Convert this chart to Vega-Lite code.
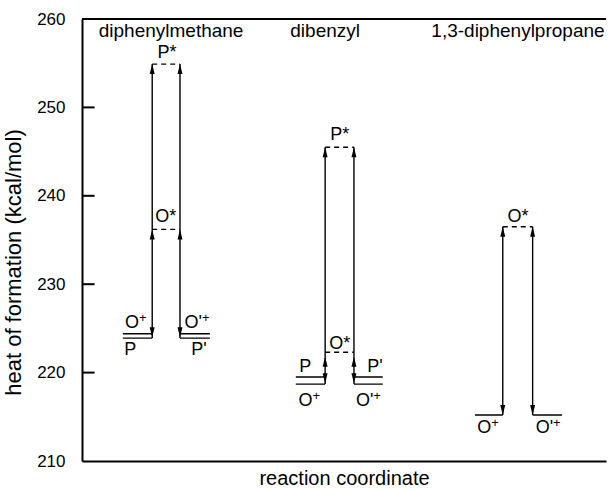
{
  "$schema": "https://vega.github.io/schema/vega-lite/v6.json",
  "width": 524,
  "height": 442,
  "autosize": {"type": "none"},
  "padding": {"left": 82, "top": 19, "right": 4, "bottom": 29},
  "background": "white",
  "config": {
    "view": {"stroke": null},
    "font": "Liberation Sans",
    "axis": {"domainColor": "black", "domainWidth": 2, "tickColor": "black", "labelColor": "black", "titleColor": "black", "grid": false, "titleFontWeight": "normal"}
  },
  "datasets": {
    "segments": [
      {"compound": "diphenylmethane", "state": "ground", "x": 7.8, "x2": 13.4, "y": 224.4, "y2": 224.4},
      {"compound": "diphenylmethane", "state": "ground", "x": 7.8, "x2": 13.4, "y": 223.9, "y2": 223.9},
      {"compound": "diphenylmethane", "state": "ground", "x": 18.7, "x2": 24.4, "y": 224.4, "y2": 224.4},
      {"compound": "diphenylmethane", "state": "ground", "x": 18.7, "x2": 24.4, "y": 223.9, "y2": 223.9},
      {"compound": "diphenylmethane", "state": "excited", "x": 13.4, "x2": 18.7, "y": 254.9, "y2": 254.9},
      {"compound": "diphenylmethane", "state": "excited", "x": 13.4, "x2": 18.7, "y": 236.2, "y2": 236.2},
      {"compound": "diphenylmethane", "state": "transition", "x": 13.4, "x2": 13.4, "y": 223.9, "y2": 254.9},
      {"compound": "diphenylmethane", "state": "transition", "x": 18.7, "x2": 18.7, "y": 223.9, "y2": 254.9},
      {"compound": "dibenzyl", "state": "ground", "x": 40.8, "x2": 46.4, "y": 219.5, "y2": 219.5},
      {"compound": "dibenzyl", "state": "ground", "x": 40.8, "x2": 46.4, "y": 218.7, "y2": 218.7},
      {"compound": "dibenzyl", "state": "ground", "x": 51.9, "x2": 57.4, "y": 219.5, "y2": 219.5},
      {"compound": "dibenzyl", "state": "ground", "x": 51.9, "x2": 57.4, "y": 218.7, "y2": 218.7},
      {"compound": "dibenzyl", "state": "excited", "x": 46.4, "x2": 51.9, "y": 245.5, "y2": 245.5},
      {"compound": "dibenzyl", "state": "excited", "x": 46.4, "x2": 51.9, "y": 222.3, "y2": 222.3},
      {"compound": "dibenzyl", "state": "transition", "x": 46.4, "x2": 46.4, "y": 218.7, "y2": 245.5},
      {"compound": "dibenzyl", "state": "transition", "x": 51.9, "x2": 51.9, "y": 218.7, "y2": 245.5},
      {"compound": "1,3-diphenylpropane", "state": "ground", "x": 75.0, "x2": 80.3, "y": 215.2, "y2": 215.2},
      {"compound": "1,3-diphenylpropane", "state": "ground", "x": 86.0, "x2": 91.6, "y": 215.2, "y2": 215.2},
      {"compound": "1,3-diphenylpropane", "state": "excited", "x": 80.3, "x2": 86.0, "y": 236.5, "y2": 236.5},
      {"compound": "1,3-diphenylpropane", "state": "transition", "x": 80.3, "x2": 80.3, "y": 215.2, "y2": 236.5},
      {"compound": "1,3-diphenylpropane", "state": "transition", "x": 86.0, "x2": 86.0, "y": 215.2, "y2": 236.5}
    ],
    "arrows": [
      {"dir": "up", "x": 13.4, "y": 254.9},
      {"dir": "up", "x": 18.7, "y": 254.9},
      {"dir": "up", "x": 13.4, "y": 236.2},
      {"dir": "up", "x": 18.7, "y": 236.2},
      {"dir": "down", "x": 13.4, "y": 224.0},
      {"dir": "down", "x": 18.7, "y": 224.0},
      {"dir": "up", "x": 46.4, "y": 245.5},
      {"dir": "up", "x": 51.9, "y": 245.5},
      {"dir": "up", "x": 46.4, "y": 221.8},
      {"dir": "up", "x": 51.9, "y": 221.8},
      {"dir": "down", "x": 46.4, "y": 218.8},
      {"dir": "down", "x": 51.9, "y": 218.8},
      {"dir": "up", "x": 80.3, "y": 236.5},
      {"dir": "up", "x": 86.0, "y": 236.5},
      {"dir": "down", "x": 80.3, "y": 215.2},
      {"dir": "down", "x": 86.0, "y": 215.2}
    ],
    "labels": [
      {"base": "P*", "x": 16.2, "y": 256.2},
      {"base": "O*", "x": 16.0, "y": 237.6},
      {"base": "P", "x": 9.2, "y": 222.6},
      {"base": "P'", "x": 22.3, "y": 222.6},
      {"base": "P*", "x": 49.2, "y": 246.9},
      {"base": "O*", "x": 49.2, "y": 223.2},
      {"base": "P", "x": 42.6, "y": 220.6},
      {"base": "P'", "x": 55.9, "y": 220.6},
      {"base": "O*", "x": 83.2, "y": 237.6}
    ],
    "ions": [
      {"base": "O", "sup": "+", "x": 10.9, "y": 225.6},
      {"base": "O'", "sup": "+", "x": 22.9, "y": 225.6},
      {"base": "O", "sup": "+", "x": 44.0, "y": 216.8},
      {"base": "O'", "sup": "+", "x": 55.6, "y": 216.8},
      {"base": "O", "sup": "+", "x": 78.1, "y": 213.7},
      {"base": "O'", "sup": "+", "x": 89.9, "y": 213.7}
    ],
    "titles": [
      {"label": "diphenylmethane", "x": 17.0, "y": 258.6},
      {"label": "dibenzyl", "x": 46.4, "y": 258.6},
      {"label": "1,3-diphenylpropane", "x": 83.2, "y": 258.6}
    ],
    "frame": [{"y": 260}],
    "majorticks": [
      {"level": 220, "start": 0, "end": 2.4},
      {"level": 230, "start": 0, "end": 2.4},
      {"level": 240, "start": 0, "end": 2.4},
      {"level": 250, "start": 0, "end": 2.4}
    ]
  },
  "layer": [
    {
      "data": {"name": "segments"},
      "mark": {"type": "rule", "color": "black", "strokeWidth": 1.4},
      "encoding": {
        "x": {"field": "x", "type": "quantitative", "scale": {"domain": [0, 100]},
          "axis": {"title": "reaction coordinate", "labels": false, "ticks": false, "titleFontSize": 20, "titlePadding": 7}},
        "x2": {"field": "x2"},
        "y": {"field": "y", "type": "quantitative", "scale": {"domain": [210, 260]},
          "axis": {"title": "heat of formation (kcal/mol)", "values": [210, 220, 230, 240, 250, 260], "ticks": false, "labelFontSize": 17, "labelPadding": 17, "titleFontSize": 22, "titlePadding": 11, "titleY": 243}},
        "y2": {"field": "y2"},
        "strokeDash": {"field": "state", "type": "nominal", "scale": {"domain": ["ground", "excited", "transition"], "range": [[1, 0], [5, 4], [1, 0]]}, "legend": null}
      }
    },
    {
      "data": {"name": "majorticks"},
      "mark": {"type": "rule", "color": "black", "strokeWidth": 2},
      "encoding": {
        "x": {"field": "start", "type": "quantitative"},
        "x2": {"field": "end"},
        "y": {"field": "level", "type": "quantitative"},
        "y2": {"field": "level"}
      }
    },
    {
      "data": {"name": "frame"},
      "mark": {"type": "rule", "color": "black", "strokeWidth": 2},
      "encoding": {"y": {"field": "y", "type": "quantitative"}}
    },
    {
      "data": {"name": "arrows"},
      "mark": {"type": "point", "filled": true, "color": "black", "opacity": 1, "size": 400},
      "encoding": {
        "x": {"field": "x", "type": "quantitative"},
        "y": {"field": "y", "type": "quantitative"},
        "shape": {"field": "dir", "type": "nominal", "scale": {"domain": ["up", "down"], "range": ["M0,0L0.25,1L-0.25,1Z", "M0,0L0.25,-1L-0.25,-1Z"]}, "legend": null}
      }
    },
    {
      "data": {"name": "labels"},
      "mark": {"type": "text", "fontSize": 18, "color": "black", "align": "center", "baseline": "middle"},
      "encoding": {
        "x": {"field": "x", "type": "quantitative"},
        "y": {"field": "y", "type": "quantitative"},
        "text": {"field": "base"}
      }
    },
    {
      "data": {"name": "ions"},
      "mark": {"type": "text", "fontSize": 18, "color": "black", "align": "right", "baseline": "middle"},
      "encoding": {
        "x": {"field": "x", "type": "quantitative"},
        "y": {"field": "y", "type": "quantitative"},
        "text": {"field": "base"}
      }
    },
    {
      "data": {"name": "ions"},
      "mark": {"type": "text", "fontSize": 13, "color": "black", "align": "left", "baseline": "middle", "dx": 0, "dy": -5},
      "encoding": {
        "x": {"field": "x", "type": "quantitative"},
        "y": {"field": "y", "type": "quantitative"},
        "text": {"field": "sup"}
      }
    },
    {
      "data": {"name": "titles"},
      "mark": {"type": "text", "fontSize": 19, "color": "black", "align": "center", "baseline": "middle"},
      "encoding": {
        "x": {"field": "x", "type": "quantitative"},
        "y": {"field": "y", "type": "quantitative"},
        "text": {"field": "label"}
      }
    }
  ]
}
